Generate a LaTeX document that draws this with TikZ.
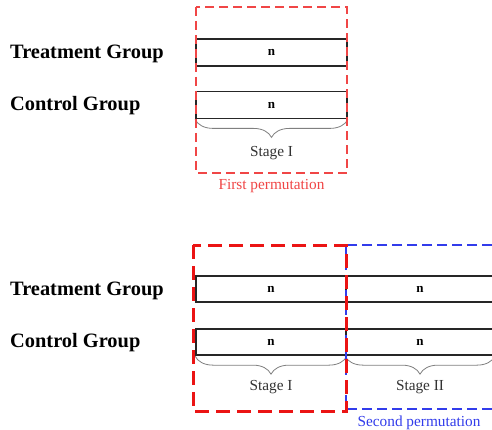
\documentclass[tikz,border=0pt]{standalone}
\usepackage{fontspec}
\setmainfont{Liberation Serif}
\usetikzlibrary{decorations.pathreplacing}
\definecolor{lred}{RGB}{240,70,70}
\definecolor{dred}{RGB}{235,20,20}
\definecolor{pblue}{RGB}{50,60,235}
\begin{document}
\begin{tikzpicture}[x=1pt,y=-1pt,
  bar/.style={draw=black!85, line width=1.8pt, inner sep=0pt, font=\fontsize{13}{13}\selectfont\bfseries},
  grp/.style={anchor=west, inner sep=0pt, font=\fontsize{20.4}{22}\selectfont\bfseries},
  stagelbl/.style={inner sep=0pt, text=black!80, font=\fontsize{15.3}{16}\selectfont},
  permlbl/.style={inner sep=0pt, font=\fontsize{15.3}{16}\selectfont},
  bracestyle/.style={draw=black!50, line width=0.8pt, decorate, decoration={brace, mirror, amplitude=18pt}},
  redthin/.style={draw=lred, line width=1.4pt, dash pattern=on 9pt off 5pt},
  redthick/.style={draw=dred, line width=3pt, dash pattern=on 14pt off 7pt},
  bluebox/.style={draw=pblue, line width=1.5pt, dash pattern=on 10pt off 5pt}
]
\clip (0,0) rectangle (492,430);
\fill[white] (0,0) rectangle (492,430);

% ---------- top part ----------
\node[grp] (tg1) at (10,54) {Treatment Group};
\node[grp] (cg1) at (10,106) {Control Group};
\node[bar, minimum width=151pt, minimum height=27pt] (t1) at (271.5,52.5) {n};
\node[bar, minimum width=151pt, minimum height=27pt] (c1) at (271.5,105) {n};
\draw[bracestyle] (c1.south west) -- (c1.south east) coordinate[midway] (b1);
\node[stagelbl] (s1) at (271.5,153) {Stage I};
\draw[redthin] (196,7) rectangle (347,173);
\node[permlbl, text=lred] (p1) at (271.5,186) {First permutation};

% ---------- bottom part ----------
\node[grp] (tg2) at (10,291) {Treatment Group};
\node[grp] (cg2) at (10,343) {Control Group};
\node[bar, minimum width=150pt, minimum height=26.5pt] (t2a) at (271,289) {n};
\node[bar, minimum width=148pt, minimum height=26.5pt] (t2b) at (420,289) {n};
\node[bar, minimum width=150pt, minimum height=26.5pt] (c2a) at (271,342) {n};
\node[bar, minimum width=148pt, minimum height=26.5pt] (c2b) at (420,342) {n};
\draw[bracestyle] (c2a.south west) -- (c2a.south east);
\draw[bracestyle] (c2b.south west) -- (c2b.south east);
\node[stagelbl] (s2a) at (271,387) {Stage I};
\node[stagelbl] (s2b) at (420,387) {Stage II};
\draw[bluebox] (346,245) rectangle (510,409);
\draw[redthick] (193,245) rectangle (346,411);
\node[permlbl, text=pblue] (p2) at (419,423) {Second permutation};
\end{tikzpicture}
\end{document}
